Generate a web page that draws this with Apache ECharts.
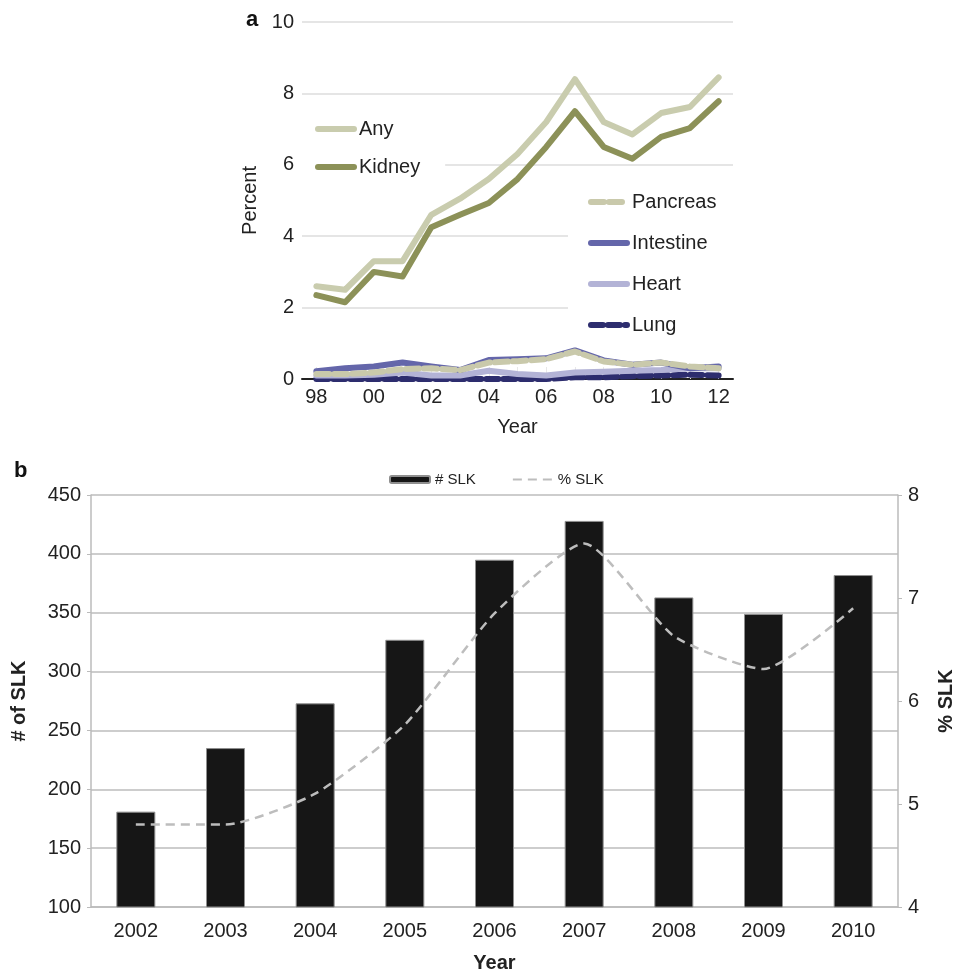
<!DOCTYPE html>
<html>
<head>
<meta charset="utf-8">
<script src="https://cdn.jsdelivr.net/npm/echarts@6/dist/echarts.min.js"></script>
<style>
  html, body { margin: 0; padding: 0; background: #fff; }
  #main { width: 964px; height: 974px; }
</style>
</head>
<body>
<div id="main"></div>
<script>
// panel a: percent of transplants by organ, 1998-2012
var years = ['1998', '1999', '2000', '2001', '2002', '2003', '2004', '2005', '2006', '2007', '2008', '2009', '2010', '2011', '2012'];
var anyPct = [2.6, 2.5, 3.3, 3.3, 4.6, 5.05, 5.6, 6.3, 7.2, 8.4, 7.2, 6.85, 7.45, 7.62, 8.45];
var kidneyPct = [2.35, 2.15, 3.0, 2.87, 4.25, 4.6, 4.93, 5.6, 6.5, 7.5, 6.5, 6.17, 6.78, 7.03, 7.78];
var pancreasPct = [0.14, 0.14, 0.18, 0.28, 0.3, 0.25, 0.46, 0.5, 0.56, 0.77, 0.49, 0.4, 0.46, 0.35, 0.3];
var intestinePct = [0.22, 0.3, 0.35, 0.46, 0.35, 0.25, 0.53, 0.55, 0.58, 0.8, 0.52, 0.4, 0.46, 0.3, 0.35];
var heartPct = [0.1, 0.1, 0.12, 0.18, 0.1, 0.1, 0.23, 0.14, 0.1, 0.18, 0.2, 0.23, 0.25, 0.3, 0.3];
var lungPct = [0, 0, 0, 0, 0, 0, 0, 0, 0, 0.05, 0.05, 0.08, 0.1, 0.12, 0.1];

// panel b: simultaneous liver-kidney
var slkYears = ['2002', '2003', '2004', '2005', '2006', '2007', '2008', '2009', '2010'];
var slkCount = [181, 235, 273, 327, 395, 428, 363, 349, 382];
var slkPct = [4.8, 4.8, 5.1, 5.77, 6.85, 7.53, 6.63, 6.31, 6.9];

var FONT = 'Liberation Sans, Arial, sans-serif';

function orgLine(name, data, color, width, dash) {
    return {
        name: name, type: 'line', xAxisIndex: 0, yAxisIndex: 0,
        data: data, symbol: 'none',
        lineStyle: { color: color, width: width, type: dash || 'solid', cap: 'round', join: 'round' },
        itemStyle: { color: color }
    };
}

var myChart = echarts.init(document.getElementById('main'));
myChart.setOption({
    animation: false,
    textStyle: { fontFamily: FONT },
    title: [
        { text: 'a', left: 241, top: 4, textStyle: { fontSize: 22, fontWeight: 'bold', color: '#111', fontFamily: FONT } },
        { text: 'b', left: 9, top: 455, textStyle: { fontSize: 22, fontWeight: 'bold', color: '#111', fontFamily: FONT } }
    ],
    legend: [
        {
            data: ['Any', 'Kidney'], orient: 'vertical', left: 302, top: 114,
            padding: [5, 25, 5, 13], backgroundColor: '#fff',
            itemWidth: 36, itemHeight: 14, itemGap: 18, itemTextGap: 9,
            itemStyle: { opacity: 0 },
            lineStyle: { width: 'inherit' },
            textStyle: { fontSize: 20, color: '#222', fontFamily: FONT }
        },
        {
            data: ['Pancreas', 'Intestine', 'Heart', 'Lung'], orient: 'vertical', left: 568, top: 187,
            padding: [5, 20, 3, 20], backgroundColor: '#fff',
            itemWidth: 36, itemHeight: 14, itemGap: 21, itemTextGap: 7,
            itemStyle: { opacity: 0 },
            lineStyle: { width: 'inherit' },
            textStyle: { fontSize: 20, color: '#222', fontFamily: FONT }
        },
        {
            data: ['# SLK', { name: '% SLK', itemStyle: { opacity: 0 } }],
            orient: 'horizontal', left: 384, top: 467,
            itemWidth: 40, itemHeight: 7, itemGap: 36, itemTextGap: 8,
            textStyle: { fontSize: 15, color: '#222', fontFamily: FONT }
        }
    ],
    grid: [
        { left: 302, top: 22, width: 431, height: 357 },
        { left: 91, top: 495, width: 815, height: 414 }
    ],
    xAxis: [
        {
            gridIndex: 0, type: 'category', data: years, boundaryGap: true,
            axisLine: { lineStyle: { color: '#222', width: 2 } },
            axisTick: { show: true, inside: true, length: 12, alignWithLabel: true, interval: 0, lineStyle: { color: '#e8e8e8' } },
            axisLabel: { interval: 1, fontSize: 20, color: '#222', margin: 8, formatter: function (v) { return v.slice(2); } },
            name: 'Year', nameLocation: 'middle', nameGap: 38,
            nameTextStyle: { fontSize: 20, color: '#222' }
        },
        {
            gridIndex: 1, type: 'category', data: slkYears, boundaryGap: true,
            axisLine: { lineStyle: { color: '#bbb', width: 1.5 } },
            axisTick: { show: false },
            axisLabel: { fontSize: 20, color: '#222', margin: 14 },
            name: 'Year', nameLocation: 'middle', nameGap: 46,
            nameTextStyle: { fontSize: 20, fontWeight: 'bold', color: '#222' }
        }
    ],
    yAxis: [
        {
            gridIndex: 0, type: 'value', min: 0, max: 10, interval: 2,
            axisLine: { show: false }, axisTick: { show: false },
            axisLabel: { fontSize: 20, color: '#222', margin: 8 },
            splitLine: { lineStyle: { color: '#dcdcdc', width: 1.5 } },
            name: 'Percent', nameLocation: 'middle', nameGap: 42,
            nameTextStyle: { fontSize: 20, color: '#222' }
        },
        {
            gridIndex: 1, type: 'value', min: 100, max: 450, interval: 50, position: 'left',
            axisLine: { show: true, lineStyle: { color: '#bbb', width: 1.5 } },
            axisTick: { show: true, length: 4, lineStyle: { color: '#bbb' } },
            axisLabel: { fontSize: 20, color: '#222', margin: 10 },
            splitLine: { lineStyle: { color: '#bdbdbd', width: 1.5 } },
            name: '# of SLK', nameLocation: 'middle', nameGap: 62,
            nameTextStyle: { fontSize: 20, fontWeight: 'bold', color: '#222' }
        },
        {
            gridIndex: 1, type: 'value', min: 4, max: 8, interval: 1, position: 'right',
            alignTicks: false,
            axisLine: { show: true, lineStyle: { color: '#bbb', width: 1.5 } },
            axisTick: { show: true, length: 4, lineStyle: { color: '#bbb' } },
            axisLabel: { fontSize: 20, color: '#222', margin: 10 },
            splitLine: { show: false },
            name: '% SLK', nameLocation: 'middle', nameGap: 38,
            nameTextStyle: { fontSize: 20, fontWeight: 'bold', color: '#222' }
        }
    ],
    series: [
        orgLine('Lung', lungPct, '#2d2d6e', 6, [12, 5]),
        orgLine('Heart', heartPct, '#b3b3d6', 6),
        orgLine('Intestine', intestinePct, '#6466aa', 6),
        orgLine('Pancreas', pancreasPct, '#c9c9ab', 6, [13, 5]),
        orgLine('Kidney', kidneyPct, '#8c9158', 6),
        orgLine('Any', anyPct, '#c9ccae', 6),
        {
            name: '# SLK', type: 'bar', xAxisIndex: 1, yAxisIndex: 1,
            data: slkCount, barWidth: 39,
            itemStyle: { color: '#161616', borderColor: '#8f8f8f', borderWidth: 1 }
        },
        {
            name: '% SLK', type: 'line', xAxisIndex: 1, yAxisIndex: 2,
            data: slkPct, symbol: 'none', smooth: 0.2,
            lineStyle: { color: '#bdbdbd', width: 2.5, type: [9, 6] },
            itemStyle: { color: '#bdbdbd' }
        }
    ]
});
</script>
</body>
</html>
